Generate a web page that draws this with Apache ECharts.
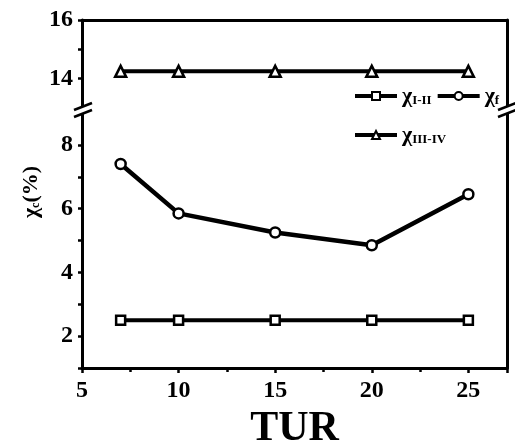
<!DOCTYPE html>
<html>
<head>
<meta charset="utf-8">
<script src="https://cdn.jsdelivr.net/npm/echarts@6/dist/echarts.min.js"></script>
<style>
  html, body { margin: 0; padding: 0; background: #fff; }
  #chart { width: 515px; height: 441px; }
</style>
</head>
<body>
<div id="chart"></div>
<script>
// TUR values on the x axis
const turValues = [7, 10, 15, 20, 25];
// χ values (%)
const chiI_II = [2.5, 2.5, 2.5, 2.5, 2.5];
const chiF = [7.4, 5.85, 5.25, 4.85, 6.45];
const chiIII_IV = [14.25, 14.25, 14.25, 14.25, 14.25];

const seriesNames = ['χI-II', 'χf', 'χIII-IV'];
const subLabels = { 'χI-II': 'I-II', 'χf': 'f', 'χIII-IV': 'III-IV' };

const FONT = '"Liberation Serif", "Times New Roman", serif';

function pairs(ys) {
  return turValues.map((x, i) => [x, ys[i]]);
}

const chart = echarts.init(document.getElementById('chart'));

const axisLine = { show: true, lineStyle: { color: '#000', width: 3 } };
const tickStyle = { color: '#000', width: 2.5 };
const labelStyle = {
  color: '#000',
  fontFamily: FONT,
  fontWeight: 'bold',
  fontSize: 24,
};

const legendText = {
  color: '#000',
  rich: {
    a: { fontFamily: FONT, fontWeight: 'bold', fontSize: 22, color: '#000' },
    s: {
      fontFamily: FONT, fontWeight: 'bold', fontSize: 13, color: '#000',
      verticalAlign: 'bottom', padding: [8, 0, 0, 0],
    },
  },
};

function legendFormatter(name) {
  return `{a|χ}{s|${subLabels[name]}}`;
}

const legendBase = {
  left: 348,
  itemWidth: 42,
  itemHeight: 10,
  itemGap: 4,
  textStyle: legendText,
  lineStyle: { width: 4 },
  formatter: legendFormatter,
  selectedMode: false,
};

const option = {
  backgroundColor: '#fff',
  animation: false,
  grid: [
    { left: 82, right: 8, top: 20, height: 88, outerBoundsMode: 'none' },
    { left: 82, right: 8, top: 113, bottom: 73, outerBoundsMode: 'none' },
  ],
  legend: [
    { ...legendBase, data: [seriesNames[0], seriesNames[1]], top: 80 },
    { ...legendBase, data: [seriesNames[2]], top: 119 },
  ],
  xAxis: [
    {
      gridIndex: 0,
      type: 'value',
      position: 'top',
      min: 5,
      max: 27,
      axisLine,
      axisTick: { show: false },
      axisLabel: { show: false },
      splitLine: { show: false },
    },
    {
      gridIndex: 1,
      type: 'value',
      min: 5,
      max: 27,
      interval: 5,
      name: 'TUR',
      nameLocation: 'middle',
      nameGap: 30,
      nameTextStyle: {
        color: '#000', fontFamily: FONT, fontWeight: 'bold', fontSize: 42,
      },
      axisLine,
      axisTick: { show: true, length: 5, lineStyle: tickStyle },
      minorTick: { show: true, splitNumber: 2, length: 4, lineStyle: tickStyle },
      axisLabel: {
        ...labelStyle,
        margin: 11,
        showMaxLabel: false,
        formatter: (v) => (v % 5 === 0 ? String(v) : ''),
      },
      splitLine: { show: false },
    },
  ],
  yAxis: [
    {
      gridIndex: 0,
      type: 'value',
      min: 13,
      max: 16,
      interval: 1,
      axisLine,
      axisTick: { show: true, length: 4, lineStyle: tickStyle },
      axisLabel: {
        ...labelStyle,
        margin: 9,
        formatter: (v) => (v % 2 === 0 ? String(v) : ''),
      },
      splitLine: { show: false },
    },
    {
      gridIndex: 1,
      type: 'value',
      min: 1,
      max: 9,
      interval: 1,
      axisLine,
      axisTick: { show: true, length: 4, lineStyle: tickStyle },
      axisLabel: {
        ...labelStyle,
        margin: 9,
        formatter: (v) => (v % 2 === 0 && v < 9 ? String(v) : ''),
      },
      splitLine: { show: false },
    },
    {
      gridIndex: 0,
      type: 'value',
      position: 'right',
      min: 13,
      max: 16,
      axisLine,
      axisTick: { show: false },
      axisLabel: { show: false },
      splitLine: { show: false },
    },
    {
      gridIndex: 1,
      type: 'value',
      position: 'right',
      min: 1,
      max: 9,
      axisLine,
      axisTick: { show: false },
      axisLabel: { show: false },
      splitLine: { show: false },
    },
  ],
  series: [
    {
      name: seriesNames[0],
      type: 'line',
      xAxisIndex: 1,
      yAxisIndex: 1,
      data: pairs(chiI_II),
      symbol: 'rect',
      symbolSize: 9,
      lineStyle: { color: '#000', width: 4 },
      itemStyle: { color: '#fff', borderColor: '#000', borderWidth: 2.5 },
    },
    {
      name: seriesNames[1],
      type: 'line',
      xAxisIndex: 1,
      yAxisIndex: 1,
      data: pairs(chiF),
      symbol: 'circle',
      symbolSize: 10,
      lineStyle: { color: '#000', width: 4.5 },
      itemStyle: { color: '#fff', borderColor: '#000', borderWidth: 2.5 },
    },
    {
      name: seriesNames[2],
      type: 'line',
      xAxisIndex: 0,
      yAxisIndex: 0,
      data: pairs(chiIII_IV),
      symbol: 'triangle',
      symbolSize: 11,
      lineStyle: { color: '#000', width: 4 },
      itemStyle: { color: '#fff', borderColor: '#000', borderWidth: 2.5 },
    },
  ],
  graphic: [
    // y axis title
    {
      type: 'text',
      x: 31,
      y: 192,
      rotation: Math.PI / 2,
      style: {
        text: '{a|χ}{s|c}{a|(%)}',
        align: 'center',
        verticalAlign: 'middle',
        rich: {
          a: { fontFamily: FONT, fontWeight: 'bold', fontSize: 22, fill: '#000' },
          s: {
            fontFamily: FONT, fontWeight: 'bold', fontSize: 12, fill: '#000',
            verticalAlign: 'bottom', padding: [9, 0, 0, 0],
          },
        },
      },
    },
    // axis break marks, left and right
    ...[83, 507].flatMap((cx) => [
      { type: 'rect', shape: { x: cx - 5, y: 107, width: 10, height: 7 }, style: { fill: '#fff' }, z: 100 },
      { type: 'line', shape: { x1: cx - 9, y1: 110, x2: cx + 9, y2: 103 }, style: { stroke: '#000', lineWidth: 2.5 }, z: 101 },
      { type: 'line', shape: { x1: cx - 9, y1: 117, x2: cx + 9, y2: 110 }, style: { stroke: '#000', lineWidth: 2.5 }, z: 101 },
    ]),
  ],
};

chart.setOption(option);
</script>
</body>
</html>
